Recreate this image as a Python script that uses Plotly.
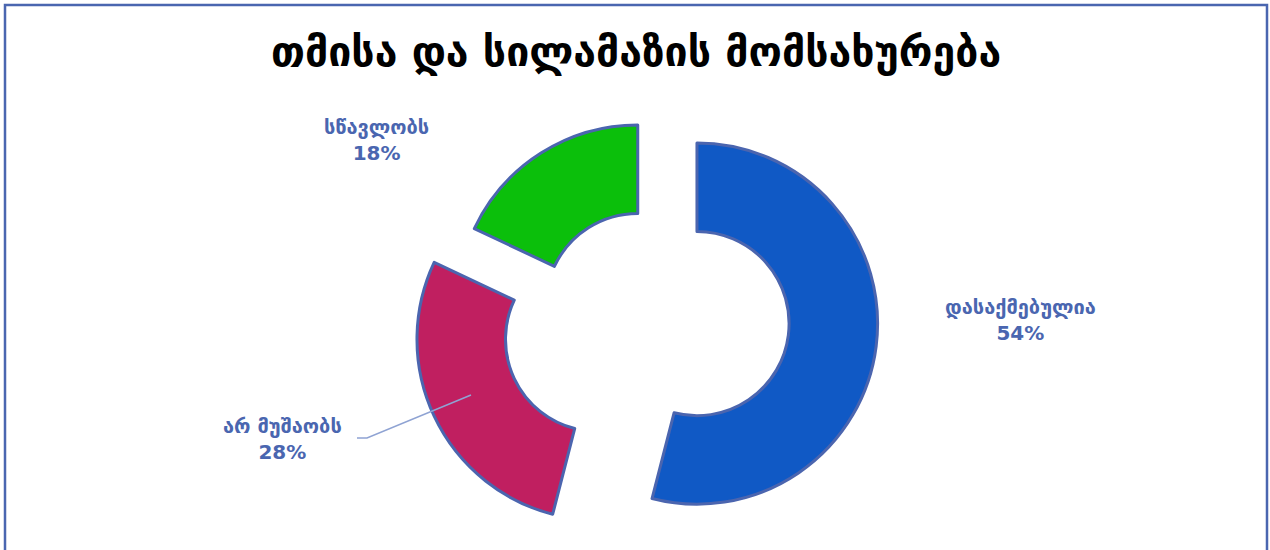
import plotly.graph_objects as go

title_text = "თმისა და სილამაზის მომსახურება"
categories = ["დასაქმებულია", "არ მუშაობს", "სწავლობს"]
values = [54, 28, 18]
colors = ["#1059C5", "#C01F60", "#0BBF0B"]
pulls = [0.29, 0.29, 0.075]

total = sum(values)
pct = [round(v * 100 / total) for v in values]

W, H = 1270, 550


def px(x):
    return x / W


def py(y):
    return 1 - y / H


# pie centre at (645, 317), radius ~180 with max pull
cx, cy, half = 645, 317, 233
fig = go.Figure()
fig.add_trace(go.Pie(
    labels=categories,
    values=values,
    hole=0.51,
    sort=False,
    direction="clockwise",
    rotation=0,
    pull=pulls,
    marker=dict(colors=colors, line=dict(color="#4B65AF", width=3)),
    textinfo="none",
    hoverinfo="label+percent",
    showlegend=False,
    domain=dict(x=[px(cx - 380), px(cx + 380)], y=[py(cy + half), py(cy - half)]),
))

label_font = dict(family="DejaVu Sans", size=20, color="#4A66B0")
label_pos = [(1020, 320), (282, 439), (376, 140)]
for (x, y), cat, p in zip(label_pos, categories, pct):
    fig.add_annotation(
        x=px(x), y=py(y), xref="paper", yref="paper",
        text=f"<b>{cat}</b><br><b>{p}%</b>",
        showarrow=False, font=label_font, align="center",
        xanchor="center", yanchor="middle",
    )

# leader line for the red slice label
pts = [(357, 438), (367, 438), (471, 395)]
path = "M " + " L ".join(f"{px(x):.5f},{py(y):.5f}" for x, y in pts)
fig.add_shape(type="path", xref="paper", yref="paper", path=path,
              line=dict(color="#8FA3D3", width=1.5))

fig.add_annotation(
    x=px(636), y=py(52), xref="paper", yref="paper",
    text=f"<b>{title_text}</b>", showarrow=False,
    font=dict(family="DejaVu Sans", size=41, color="#000000"),
    xanchor="center", yanchor="middle",
)

# chart border
fig.add_shape(type="rect", xref="paper", yref="paper",
              x0=px(5), y0=py(5), x1=px(1267), y1=py(560),
              line=dict(color="#4A66B0", width=2.5))

fig.update_layout(
    width=W, height=H,
    margin=dict(l=0, r=0, t=0, b=0),
    paper_bgcolor="white", plot_bgcolor="white",
)

fig.write_html(
    "out.html",
    config={"displayModeBar": False},
    post_script="document.body.style.margin='0';document.body.style.overflow='hidden';",
)
